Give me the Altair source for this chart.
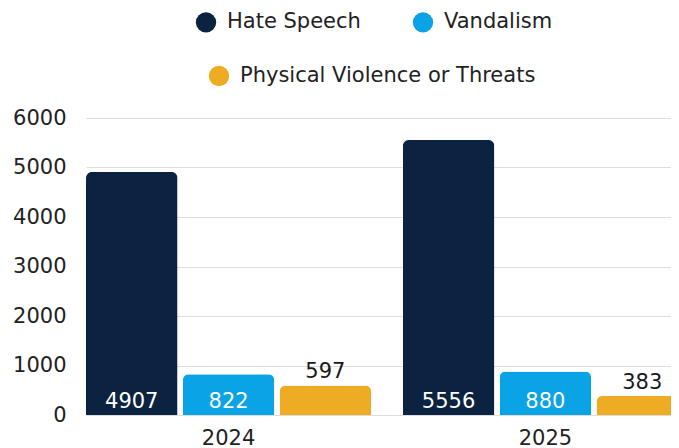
import altair as alt
import pandas as pd

years = ["2024", "2025"]
series = ["Hate Speech", "Vandalism", "Physical Violence or Threats"]
hate_speech = [4907, 5556]
vandalism = [822, 880]
physical = [597, 383]
colors = ["#0b2340", "#0aa3e6", "#eeac24"]

rows = []
for i, y in enumerate(years):
    rows.append({"year": y, "series": series[0], "value": hate_speech[i]})
    rows.append({"year": y, "series": series[1], "value": vandalism[i]})
    rows.append({"year": y, "series": series[2], "value": physical[i]})
df = pd.DataFrame(rows)

FONT = "DejaVu Sans"

base = alt.Chart(df).encode(
    x=alt.X(
        "year:N",
        sort=years,
        scale=alt.Scale(range=[0, 602], paddingInner=0.1, paddingOuter=0),
        axis=alt.Axis(title=None, labelAngle=0, domain=False, ticks=False,
                      labelPadding=12, labelFontSize=21, labelColor="#222222", grid=False),
    ),
    xOffset=alt.XOffset("series:N", sort=series,
                        scale=alt.Scale(domain=series, paddingInner=0.055, paddingOuter=0)),
    y=alt.Y(
        "value:Q",
        scale=alt.Scale(domain=[0, 6000]),
        axis=alt.Axis(title=None, values=[0, 1000, 2000, 3000, 4000, 5000, 6000],
                      format="d", domain=False, ticks=False, labelPadding=20, labelFontSize=21,
                      labelColor="#222222", grid=True, gridColor="#dddddd"),
    ),
)

bars_a = base.transform_filter(
    alt.FieldOneOfPredicate(field="series", oneOf=series[:2])
).mark_bar(cornerRadiusTopLeft=6, cornerRadiusTopRight=6).encode(
    color=alt.Color("series:N",
                    scale=alt.Scale(domain=series[:2], range=colors[:2]),
                    legend=alt.Legend(title=None, orient="none", direction="horizontal",
                                      legendX=109, legendY=-107)),
)

bars_b = base.transform_filter(
    alt.FieldEqualPredicate(field="series", equal=series[2])
).mark_bar(cornerRadiusTopLeft=6, cornerRadiusTopRight=6).encode(
    color=alt.Color("series:N",
                    scale=alt.Scale(domain=series[2:], range=colors[2:]),
                    legend=alt.Legend(title=None, orient="none", direction="horizontal",
                                      legendX=122, legendY=-53)),
)

labels_in = base.transform_filter(
    alt.FieldOneOfPredicate(field="series", oneOf=series[:2])
).mark_text(fontSize=21, color="#ffffff", baseline="alphabetic", dy=-7, font=FONT).encode(
    y=alt.datum(0),
    text=alt.Text("value:Q", format="d"),
)

labels_out = base.transform_filter(
    alt.FieldEqualPredicate(field="series", equal=series[2])
).mark_text(fontSize=21, color="#1a1a1a", baseline="alphabetic", dy=-7, font=FONT).encode(
    text=alt.Text("value:Q", format="d"),
)

chart = alt.layer(bars_a, bars_b, labels_in, labels_out).resolve_scale(
    color="independent"
).properties(
    width=585,
    height=297,
    autosize=alt.AutoSizeParams(type="none"),
    padding={"left": 78, "top": 110, "right": 0, "bottom": 33},
).configure(font=FONT).configure_view(stroke=None).configure_legend(
    symbolType="circle",
    symbolSize=415,
    symbolOpacity=1,
    labelFontSize=21,
    labelColor="#222222",
    labelOffset=10,
    labelLimit=0,
    columnPadding=51,
    padding=0,
    labelFont=FONT,
)

chart.save("out.html", embed_options={"renderer": "svg", "actions": False})
